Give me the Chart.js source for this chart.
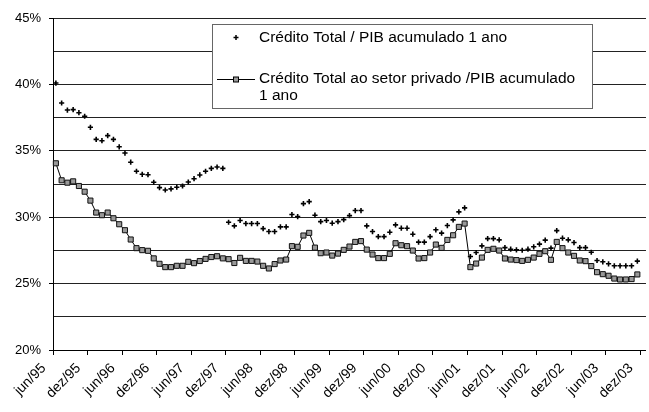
<!DOCTYPE html>
<html>
<head>
<meta charset="utf-8">
<script src="https://cdn.jsdelivr.net/npm/chart.js@4.4.1/dist/chart.umd.min.js"></script>
<style>
    html, body { margin: 0; padding: 0; background: #fff; overflow: hidden; }
    #wrap { width: 649px; height: 412px; overflow: hidden; }
</style>
</head>
<body>
<div id="wrap"><canvas id="chart" width="660" height="412"></canvas></div>
<script>
// ===========================
// DADOS
// ===========================
const MONTHS = ['jan', 'fev', 'mar', 'abr', 'mai', 'jun', 'jul', 'ago', 'set', 'out', 'nov', 'dez'];

const TICK_LABELS = [
    'jun/95', 'dez/95', 'jun/96', 'dez/96', 'jun/97', 'dez/97', 'jun/98', 'dez/98', 'jun/99',
    'dez/99', 'jun/00', 'dez/00', 'jun/01', 'dez/01', 'jun/02', 'dez/02', 'jun/03', 'dez/03'
];

const Y_TICKS = [20, 25, 30, 35, 40, 45];

// Crédito Total / PIB acumulado 1 ano (%), jun/95 .. dez/03
const creditoTotal = [
    40.10, 38.60, 38.07, 38.10, 37.87, 37.60, 36.77, 35.86, 35.76, 36.14, 35.86, 35.30,
    34.83, 34.14, 33.46, 33.23, 33.20, 32.63, 32.23, 32.05, 32.13, 32.26, 32.35, 32.65,
    32.90, 33.18, 33.46, 33.68, 33.78, 33.68, 29.62, 29.35, 29.75, 29.52, 29.52, 29.52,
    29.14, 28.92, 28.92, 29.27, 29.27, 30.20, 30.05, 31.02, 31.17, 30.15, 29.67, 29.75,
    29.55, 29.67, 29.82, 30.12, 30.50, 30.50, 29.35, 28.92, 28.54, 28.54, 28.87, 29.42,
    29.17, 29.17, 28.72, 28.12, 28.12, 28.54, 29.05, 28.80, 29.37, 29.80, 30.40, 30.70,
    27.04, 27.34, 27.84, 28.39, 28.39, 28.29, 27.71, 27.59, 27.54, 27.51, 27.59, 27.77,
    27.97, 28.27, 27.67, 28.99, 28.42, 28.29, 28.09, 27.71, 27.71, 27.36, 26.74, 26.64,
    26.49, 26.34, 26.34, 26.34, 26.34, 26.69, null
];

// Crédito Total ao setor privado / PIB acumulado 1 ano (%)
const creditoPrivado = [
    34.06, 32.78, 32.60, 32.70, 32.35, 31.92, 31.25, 30.35, 30.15, 30.35, 29.92, 29.47,
    29.02, 28.32, 27.67, 27.52, 27.47, 26.90, 26.49, 26.24, 26.24, 26.34, 26.34, 26.64,
    26.54, 26.70, 26.86, 27.00, 27.06, 26.90, 26.84, 26.55, 26.94, 26.71, 26.71, 26.66,
    26.34, 26.14, 26.47, 26.74, 26.81, 27.82, 27.77, 28.62, 28.82, 27.71, 27.29, 27.34,
    27.11, 27.26, 27.54, 27.79, 28.14, 28.20, 27.56, 27.19, 26.92, 26.92, 27.24, 28.04,
    27.89, 27.82, 27.49, 26.89, 26.92, 27.34, 27.94, 27.69, 28.29, 28.64, 29.27, 29.52,
    26.24, 26.51, 26.96, 27.54, 27.62, 27.49, 26.89, 26.81, 26.77, 26.71, 26.79, 26.96,
    27.24, 27.44, 26.79, 28.14, 27.67, 27.34, 27.09, 26.74, 26.69, 26.32, 25.86, 25.71,
    25.59, 25.38, 25.31, 25.31, 25.34, 25.69, null
];

const SERIES_LABELS = [
    'Crédito Total / PIB acumulado 1 ano',
    'Crédito Total ao setor privado /PIB acumulado 1 ano'
];

// categorias mensais jun/95 .. dez/03
const categories = [];
for (let y = 1995; y <= 2003; y++) {
    MONTHS.forEach((m, k) => {
        if (y === 1995 && k < 5) return;
        categories.push(m + '/' + String(y).slice(2));
    });
}

const FONT = "'Liberation Sans', Arial, sans-serif";

// ===========================
// LEGENDA (caixa dentro do gráfico)
// ===========================
const legendBox = {
    id: 'legendBox',
    afterDraw(chart) {
        const ctx = chart.ctx;
        ctx.save();
        ctx.fillStyle = '#fff';
        ctx.fillRect(212, 24, 380, 84);
        ctx.strokeStyle = '#666';
        ctx.lineWidth = 1;
        ctx.strokeRect(212.5, 24.5, 380, 84);

        // marcador "+"
        ctx.strokeStyle = '#000';
        ctx.lineWidth = 1.5;
        ctx.beginPath();
        ctx.moveTo(233.5, 37.5); ctx.lineTo(238.5, 37.5);
        ctx.moveTo(236, 35); ctx.lineTo(236, 40);
        ctx.stroke();

        // linha com quadrado
        ctx.lineWidth = 1;
        ctx.beginPath();
        ctx.moveTo(217, 79.5); ctx.lineTo(255, 79.5);
        ctx.stroke();
        ctx.fillStyle = '#999';
        ctx.fillRect(233.5, 77, 5, 5);
        ctx.strokeRect(233.5, 77, 5, 5);

        ctx.fillStyle = '#000';
        ctx.font = '15.5px ' + FONT;
        ctx.textBaseline = 'alphabetic';
        ctx.textAlign = 'left';
        ctx.fillText(SERIES_LABELS[0], 259, 42);
        ctx.fillText('Crédito Total ao setor privado /PIB acumulado', 259, 83);
        ctx.fillText('1 ano', 259, 99.5);
        ctx.restore();
    }
};

// ===========================
// GRÁFICO
// ===========================
new Chart(document.getElementById('chart'), {
    type: 'line',
    data: {
        labels: categories,
        datasets: [
            {
                label: SERIES_LABELS[0],
                data: creditoTotal,
                showLine: false,
                pointStyle: 'cross',
                pointRadius: 2.6,
                pointBorderWidth: 1.6,
                borderColor: '#000',
                backgroundColor: '#000'
            },
            {
                label: SERIES_LABELS[1],
                data: creditoPrivado,
                borderColor: '#000',
                borderWidth: 1,
                tension: 0,
                pointStyle: 'rect',
                pointRadius: 3.6,
                pointBorderWidth: 1,
                pointBorderColor: '#111',
                pointBackgroundColor: '#999'
            }
        ]
    },
    options: {
        responsive: false,
        animation: false,
        events: [],
        layout: { padding: { top: 18, left: 0, right: 0, bottom: 0 } },
        plugins: {
            legend: { display: false },
            tooltip: { enabled: false }
        },
        scales: {
            x: {
                type: 'category',
                offset: true,
                border: { display: true, color: '#000', width: 1 },
                grid: {
                    offset: true,
                    drawOnChartArea: false,
                    drawTicks: true,
                    tickLength: 5,
                    color: ctx => (ctx.index % 6 === 0 ? '#000' : 'rgba(0,0,0,0)')
                },
                ticks: {
                    autoSkip: false,
                    minRotation: 45,
                    maxRotation: 45,
                    padding: 5,
                    labelOffset: -12,
                    color: '#000',
                    font: { family: FONT, size: 14 },
                    callback: (v, i) => (TICK_LABELS.includes(categories[i]) ? categories[i] : '')
                },
                afterFit: scale => { scale.height = 62; }
            },
            y: {
                min: 20,
                max: 45,
                border: { display: true, color: '#000', width: 1 },
                grid: {
                    color: '#222',
                    lineWidth: 1,
                    tickLength: 4,
                    tickColor: ctx => (Y_TICKS.includes(ctx.tick && ctx.tick.value) ? '#000' : 'rgba(0,0,0,0)')
                },
                ticks: {
                    stepSize: 2.5,
                    padding: 8,
                    color: '#000',
                    font: { family: FONT, size: 13 },
                    callback: v => (Y_TICKS.includes(v) ? v + '%' : '')
                },
                afterFit: scale => { scale.width = 53; }
            }
        }
    },
    plugins: [legendBox]
});
</script>
</body>
</html>
